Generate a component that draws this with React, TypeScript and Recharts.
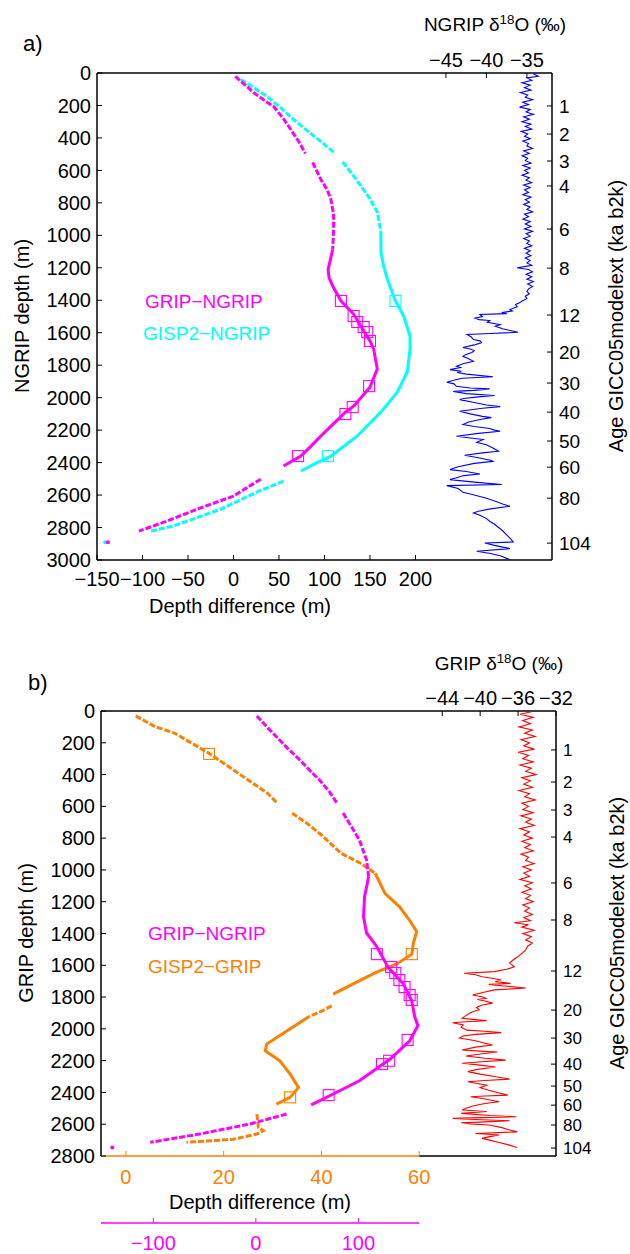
import React from "react";
import { ComposedChart, Scatter, XAxis, YAxis, ReferenceLine } from "recharts";

// [x value, depth in m]
type Pair = [number, number];

// ---------- panel a: NGRIP ----------
const depthTicksA = [0, 200, 400, 600, 800, 1000, 1200, 1400, 1600, 1800, 2000, 2200, 2400, 2600, 2800, 3000];
const diffTicksA = [-150, -100, -50, 0, 50, 100, 150, 200];
const d18oTicksA = [-45, -40, -35];
const ageDepthsA = [203, 376, 542, 696, 961, 1202, 1491, 1719, 1910, 2089, 2267, 2428, 2619, 2896];
const ageLabelsA = ["1", "2", "3", "4", "6", "8", "12", "20", "30", "40", "50", "60", "80", "104"];

const gripNgripA_top: Pair[] = [[2, 21], [12, 70], [22, 120], [33, 165], [44, 206], [54, 275], [63, 348], [72, 425], [79, 496]];
const gripNgripA_upper: Pair[] = [[87, 551], [96, 656], [103, 720], [107, 779], [110, 870], [110, 964], [109, 1087]];
const gripNgripA_mid: Pair[] = [[109, 1087], [104, 1211], [105, 1260], [109, 1312], [118, 1404], [132, 1485], [140, 1560], [150, 1650], [154, 1700], [158, 1824], [150, 1935], [132, 2052], [123, 2089], [110, 2160], [96, 2236], [85, 2300], [74, 2360], [55, 2421]];
const gripNgripA_low: Pair[] = [[30, 2502], [0, 2606], [-40, 2687], [-73, 2760], [-104, 2822]];
const gripNgripA_odd: Pair[] = [[-138, 2890]];
const gripNgripA_marks: Pair[] = [[118, 1404], [132, 1497], [136, 1534], [143, 1565], [147, 1596], [150, 1651], [149, 1929], [131, 2058], [123, 2101], [71, 2360]];

const gisp2NgripA_top: Pair[] = [[8, 40], [22, 90], [37, 145], [52, 215], [66, 287], [81, 355], [96, 422], [110, 487]];
const gisp2NgripA_upper: Pair[] = [[120, 548], [130, 620], [140, 696], [150, 775], [158, 857], [162, 980]];
const gisp2NgripA_mid: Pair[] = [[162, 980], [162, 1103], [165, 1190], [169, 1269], [178, 1404], [187, 1497], [194, 1620], [194, 1700], [191, 1842], [180, 1966], [162, 2089], [136, 2236], [107, 2360], [92, 2400], [74, 2452]];
const gisp2NgripA_low: Pair[] = [[55, 2514], [26, 2581], [-14, 2687], [-66, 2791], [-91, 2822]];
const gisp2NgripA_odd: Pair[] = [[-141, 2890]];
const gisp2NgripA_marks: Pair[] = [[178, 1404], [104, 2360]];

// NGRIP d18O [permil, depth]
const ngripD18O: Pair[] = [
  [-34.2, 5], [-33.6, 20], [-35.0, 30], [-34.4, 45], [-35.6, 60], [-34.6, 75], [-35.3, 90], [-34.5, 105], [-35.8, 120], [-34.9, 135],
  [-35.2, 150], [-34.3, 165], [-35.5, 180], [-34.8, 195], [-35.9, 210], [-34.6, 225], [-35.1, 240], [-34.2, 255], [-35.4, 270], [-34.7, 285],
  [-35.6, 300], [-34.5, 315], [-35.2, 330], [-34.4, 345], [-35.7, 360], [-34.9, 375], [-35.3, 390], [-34.6, 405], [-35.5, 420], [-34.8, 435],
  [-35.0, 450], [-34.3, 465], [-35.4, 480], [-34.7, 495], [-35.6, 510], [-34.9, 525], [-35.2, 540], [-34.5, 555], [-35.5, 570], [-34.6, 585],
  [-35.3, 600], [-34.8, 615], [-35.6, 630], [-34.7, 645], [-35.1, 660], [-34.4, 675], [-35.4, 690], [-34.6, 705], [-35.3, 720], [-34.8, 735],
  [-35.5, 750], [-34.5, 765], [-35.2, 780], [-34.7, 795], [-35.4, 810], [-34.6, 825], [-35.0, 840], [-34.3, 855], [-35.3, 870], [-34.8, 885],
  [-35.5, 900], [-34.6, 915], [-35.2, 930], [-34.5, 945], [-35.3, 960], [-34.3, 975], [-35.1, 990], [-34.6, 1005], [-35.4, 1020], [-34.7, 1035],
  [-35.0, 1050], [-34.4, 1065], [-35.3, 1080], [-34.6, 1095], [-35.1, 1110], [-34.5, 1125], [-35.2, 1140], [-34.6, 1155], [-35.0, 1170], [-34.4, 1185],
  [-36.2, 1200], [-34.8, 1210], [-34.3, 1225], [-35.1, 1240], [-34.4, 1255], [-35.0, 1270], [-34.2, 1285], [-34.9, 1300], [-34.3, 1315], [-34.8, 1330],
  [-35.0, 1345], [-34.7, 1360], [-35.2, 1375], [-35.0, 1390], [-35.6, 1405], [-35.9, 1416], [-36.4, 1426], [-36.2, 1440], [-37.1, 1457], [-36.8, 1466],
  [-38.1, 1476], [-37.5, 1482], [-40.8, 1488], [-40.5, 1500], [-41.4, 1510], [-40.9, 1519], [-39.6, 1525], [-39.9, 1535], [-38.3, 1550], [-38.9, 1560],
  [-38.0, 1575], [-37.2, 1585], [-36.1, 1597], [-39.5, 1605], [-42.4, 1611], [-41.9, 1625], [-41.6, 1642], [-40.8, 1650], [-40.6, 1661], [-41.5, 1675],
  [-42.9, 1691], [-42.0, 1700], [-41.5, 1710], [-41.8, 1722], [-42.6, 1735], [-42.9, 1745], [-42.2, 1760], [-41.6, 1776], [-42.8, 1790], [-43.7, 1806],
  [-43.2, 1815], [-44.5, 1827], [-43.1, 1837], [-43.6, 1845], [-42.5, 1855], [-39.2, 1871], [-43.0, 1880], [-43.8, 1890], [-44.9, 1905], [-44.0, 1915],
  [-43.7, 1930], [-42.0, 1940], [-39.6, 1946], [-41.5, 1955], [-44.1, 1961], [-42.5, 1975], [-39.0, 1987], [-41.0, 1995], [-42.8, 2005], [-43.3, 2012],
  [-41.5, 2030], [-40.0, 2045], [-38.3, 2055], [-40.5, 2065], [-43.3, 2084], [-42.0, 2100], [-40.5, 2115], [-39.4, 2123], [-40.8, 2135], [-42.2, 2150],
  [-42.9, 2166], [-41.5, 2178], [-39.6, 2190], [-39.0, 2200], [-38.3, 2207], [-41.0, 2220], [-43.7, 2238], [-42.0, 2248], [-40.4, 2258], [-41.2, 2275],
  [-40.0, 2290], [-39.2, 2310], [-38.5, 2330], [-40.5, 2340], [-42.7, 2355], [-41.0, 2370], [-39.5, 2385], [-39.2, 2392], [-41.5, 2405], [-43.5, 2425],
  [-44.5, 2443], [-42.5, 2455], [-40.8, 2470], [-42.8, 2480], [-43.8, 2495], [-44.5, 2505], [-41.5, 2520], [-38.1, 2535], [-44.9, 2542], [-43.5, 2560],
  [-42.9, 2583], [-41.5, 2600], [-40.0, 2620], [-38.8, 2640], [-38.0, 2655], [-37.1, 2669], [-39.5, 2685], [-41.0, 2700], [-41.6, 2710], [-40.8, 2725],
  [-40.0, 2745], [-39.6, 2761], [-39.0, 2780], [-38.5, 2800], [-38.0, 2820], [-37.5, 2845], [-37.0, 2870], [-36.7, 2889], [-40.2, 2895], [-39.0, 2910],
  [-37.1, 2930], [-41.2, 2946], [-39.5, 2960], [-38.2, 2975], [-37.5, 2990], [-37.1, 2998],
];

// ---------- panel b: GRIP ----------
const depthTicksB = [0, 200, 400, 600, 800, 1000, 1200, 1400, 1600, 1800, 2000, 2200, 2400, 2600, 2800];
const orangeTicksB = [0, 20, 40, 60];
const magentaTicksB = [-100, 0, 100];
const d18oTicksB = [-44, -40, -36, -32];
const ageDepthsB = [245, 447, 623, 793, 1082, 1315, 1636, 1882, 2058, 2222, 2360, 2480, 2605, 2750];
const ageLabelsB = ["1", "2", "3", "4", "6", "8", "12", "20", "30", "40", "50", "60", "80", "104"];

const gripNgripB_top: Pair[] = [[1, 31], [10, 95], [20, 162], [31, 235], [43, 308], [52, 370], [62, 434], [72, 510], [79, 579]];
const gripNgripB_upper: Pair[] = [[85, 642], [93, 725], [101, 812], [108, 938], [110, 1043]];
const gripNgripB_mid: Pair[] = [[110, 1043], [106, 1169], [105, 1294], [108, 1397], [118, 1483], [129, 1613], [144, 1718], [152, 1823], [155, 1926], [158, 1980], [150, 2075], [131, 2190], [101, 2327], [72, 2421], [54, 2478]];
const gripNgripB_low: Pair[] = [[30, 2536], [-6, 2599], [-55, 2662], [-103, 2714]];
const gripNgripB_odd: Pair[] = [[-140, 2746]];
const gripNgripB_marks: Pair[] = [[118, 1530], [132, 1611], [136, 1649], [140, 1693], [145, 1737], [150, 1787], [152, 1818], [148, 2070], [130, 2201], [123, 2222], [71, 2417]];

const gisp2GripB_top: Pair[] = [[2, 31], [6, 99], [10, 140], [17, 266], [21, 350], [26, 455], [29, 518], [31, 581]];
const gisp2GripB_upper: Pair[] = [[34, 643], [37, 706], [40, 780], [44, 895], [48, 958], [51, 1021]];
const gisp2GripB_mid: Pair[] = [[51, 1021], [53, 1147], [56, 1232], [58, 1315], [59.5, 1389], [58.8, 1462], [58.5, 1530], [55.4, 1592], [51.3, 1643], [47.2, 1706], [42.4, 1781]];
const gisp2GripB_gap: Pair[] = [[42.1, 1855], [39.7, 1894], [37.5, 1922]];
const gisp2GripB_loop: Pair[] = [[37.5, 1922], [33, 2012], [28.8, 2096], [28.5, 2138], [31.5, 2201], [33.6, 2285], [35.3, 2368], [33.6, 2431], [30.8, 2473]];
const gisp2GripB_low: Pair[] = [[26.8, 2536], [27.1, 2620], [28.1, 2641], [26.8, 2662], [22, 2694], [18.6, 2702], [12.4, 2714]];
const gisp2GripB_marks: Pair[] = [[17, 270], [58.5, 1530], [33.6, 2431]];

// GRIP d18O [permil, depth]
const gripD18O: Pair[] = [
  [-34.6, 5], [-35.8, 20], [-34.4, 40], [-35.5, 60], [-34.7, 80], [-35.9, 100], [-34.5, 120], [-35.3, 140], [-34.2, 160], [-35.7, 180],
  [-34.8, 200], [-35.4, 220], [-34.3, 240], [-36.0, 260], [-34.9, 280], [-35.5, 300], [-34.4, 320], [-35.8, 340], [-34.6, 360], [-35.2, 380],
  [-34.1, 400], [-35.6, 420], [-34.7, 440], [-35.4, 460], [-34.5, 480], [-35.9, 500], [-34.8, 520], [-35.3, 540], [-34.2, 560], [-35.6, 580],
  [-34.9, 600], [-35.5, 620], [-34.4, 640], [-35.7, 660], [-34.6, 680], [-35.2, 700], [-34.3, 720], [-35.8, 740], [-34.8, 760], [-35.4, 780],
  [-34.5, 800], [-35.6, 820], [-34.7, 840], [-35.3, 860], [-34.4, 880], [-35.7, 900], [-34.9, 920], [-35.2, 940], [-34.3, 960], [-35.5, 980],
  [-34.6, 1000], [-35.4, 1020], [-34.8, 1040], [-35.8, 1060], [-34.5, 1080], [-35.3, 1100], [-34.6, 1120], [-35.6, 1140], [-34.7, 1160], [-35.2, 1180],
  [-34.4, 1200], [-35.5, 1220], [-34.8, 1240], [-35.3, 1260], [-34.5, 1280], [-35.4, 1300], [-34.7, 1320], [-36.4, 1332], [-34.9, 1345], [-35.6, 1360],
  [-34.3, 1380], [-35.5, 1400], [-34.6, 1420], [-35.2, 1440], [-34.5, 1460], [-35.0, 1480], [-35.2, 1504], [-35.5, 1520], [-36.0, 1545], [-36.5, 1565],
  [-36.9, 1586], [-36.6, 1600], [-36.4, 1609], [-37.2, 1625], [-38.5, 1640], [-41.7, 1650], [-40.5, 1660], [-39.8, 1672], [-38.6, 1683], [-37.8, 1693],
  [-38.4, 1703], [-36.8, 1714], [-39.1, 1720], [-37.5, 1730], [-35.2, 1743], [-38.5, 1755], [-39.6, 1770], [-40.8, 1787], [-39.8, 1798], [-39.4, 1808],
  [-40.3, 1815], [-39.5, 1825], [-38.7, 1838], [-39.8, 1850], [-40.4, 1865], [-40.1, 1880], [-40.8, 1892], [-41.2, 1905], [-41.6, 1920], [-41.9, 1934],
  [-40.5, 1942], [-39.3, 1949], [-41.5, 1955], [-42.9, 1962], [-41.8, 1975], [-42.0, 1990], [-41.4, 2008], [-39.5, 2015], [-37.8, 2024], [-40.5, 2035],
  [-41.8, 2045], [-42.2, 2058], [-40.5, 2075], [-39.5, 2090], [-38.7, 2102], [-40.5, 2115], [-41.9, 2133], [-40.0, 2140], [-38.2, 2146], [-40.0, 2158],
  [-41.5, 2171], [-39.5, 2185], [-37.3, 2197], [-39.8, 2207], [-41.9, 2216], [-40.0, 2228], [-38.4, 2240], [-40.3, 2255], [-41.3, 2269], [-40.0, 2285],
  [-38.5, 2300], [-36.9, 2316], [-39.5, 2325], [-41.3, 2333], [-40.2, 2345], [-39.3, 2354], [-40.0, 2370], [-39.2, 2385], [-38.2, 2400], [-37.1, 2417],
  [-39.5, 2422], [-41.0, 2427], [-39.6, 2440], [-38.0, 2459], [-39.5, 2470], [-40.8, 2485], [-41.5, 2500], [-41.9, 2511], [-39.3, 2520], [-42.0, 2532],
  [-39.0, 2545], [-36.2, 2553], [-42.9, 2563], [-40.5, 2570], [-36.9, 2578], [-39.5, 2585], [-42.0, 2591], [-41.0, 2598], [-39.1, 2605], [-37.8, 2620],
  [-37.0, 2635], [-36.1, 2648], [-40.5, 2658], [-39.2, 2663], [-38.0, 2668], [-39.0, 2678], [-39.8, 2689], [-39.0, 2700], [-38.0, 2715], [-37.0, 2730],
  [-36.1, 2746],
];

const MAGENTA = "#ff00ff";
const CYAN = "#00ffff";
const ORANGE = "#ff8000";
const FONT = '"Liberation Sans", Arial, Helvetica, sans-serif';

const pts = (a: Pair[]) => a.map(([x, y]) => ({ x, y }));
const minus = (v: number) => String(v).replace("-", "\u2212");
const none = () => <g />;
const dot = (color: string) => (p: any) => <circle cx={p.cx} cy={p.cy} r={2} fill={color} />;
const square = (color: string) => (p: any) => (
  <rect x={p.cx - 5.5} y={p.cy - 5.5} width={11} height={11} fill="none" stroke={color} strokeWidth={1.1} />
);

const tickStyle = (fill = "#000", fontSize = 20) => ({ fontSize, fill, fontFamily: FONT });

// curve drawn as a polyline through the read-off points
const curve = (key: string, data: Pair[], color: string, xId: string, dashed: boolean) => (
  <Scatter
    key={key}
    data={pts(data)}
    xAxisId={xId}
    yAxisId="l"
    shape={none}
    line={{ stroke: color, strokeWidth: 3, strokeDasharray: dashed ? "6 2" : undefined }}
    isAnimationActive={false}
  />
);

const marks = (key: string, data: Pair[], color: string, xId: string) => (
  <Scatter key={key} data={pts(data)} xAxisId={xId} yAxisId="l" shape={square(color)} isAnimationActive={false} />
);

const Txt = ({ x, y, size = 20, color = "#000", rot = false, center = true, children }: any) => (
  <div
    style={{
      position: "absolute",
      left: x,
      top: y,
      transform: `translate(${center ? "-50%" : "0"}, -50%)${rot ? " rotate(-90deg)" : ""}`,
      fontSize: size,
      color,
      fontFamily: FONT,
      whiteSpace: "nowrap",
      lineHeight: 1,
    }}
  >
    {children}
  </div>
);

const Sup = ({ children }: any) => (
  <span style={{ fontSize: "0.7em", position: "relative", top: "-0.5em" }}>{children}</span>
);

const PanelA = () => (
  <ComposedChart width={630} height={620} margin={{ top: 43, right: 38, bottom: 35, left: 37 }}>
    <XAxis xAxisId="d" dataKey="x" type="number" orientation="bottom" height={25} domain={[-150, 350]} allowDataOverflow
      ticks={diffTicksA} interval={0} tickFormatter={minus} tickSize={-5} tickMargin={17}
      stroke="#000" axisLine={{ stroke: "#000", strokeWidth: 1.5 }} tick={tickStyle()} />
    <XAxis xAxisId="o" dataKey="x" type="number" orientation="top" height={30} domain={[-88.1, -31.9]} allowDataOverflow
      ticks={d18oTicksA} interval={0} tickFormatter={minus} tickSize={-5} tickMargin={11}
      stroke="#000" axisLine={{ stroke: "#000", strokeWidth: 1.5 }} tick={tickStyle()} />
    <YAxis yAxisId="l" dataKey="y" type="number" reversed width={60} domain={[0, 3000]} allowDataOverflow
      ticks={depthTicksA} interval={0} tickSize={-5} tickMargin={11}
      stroke="#000" axisLine={{ stroke: "#000", strokeWidth: 1.5 }} tick={tickStyle()} />
    <YAxis yAxisId="r" orientation="right" type="number" reversed width={40} domain={[0, 3000]} allowDataOverflow
      ticks={ageDepthsA} interval={0} tickFormatter={(_v: number, i: number) => ageLabelsA[i]} tickSize={-5} tickMargin={12}
      stroke="#000" axisLine={{ stroke: "#000", strokeWidth: 1.5 }} tick={tickStyle("#000", 19)} />

    <Scatter data={pts(ngripD18O)} xAxisId="o" yAxisId="l" shape={none}
      line={{ stroke: "#0000ff", strokeWidth: 1.1 }} isAnimationActive={false} />

    {curve("c1", gisp2NgripA_top, CYAN, "d", true)}
    {curve("c2", gisp2NgripA_upper, CYAN, "d", true)}
    {curve("c3", gisp2NgripA_mid, CYAN, "d", false)}
    {curve("c4", gisp2NgripA_low, CYAN, "d", true)}
    <Scatter data={pts(gisp2NgripA_odd)} xAxisId="d" yAxisId="l" shape={dot(CYAN)} isAnimationActive={false} />
    {curve("m1", gripNgripA_top, MAGENTA, "d", true)}
    {curve("m2", gripNgripA_upper, MAGENTA, "d", true)}
    {curve("m3", gripNgripA_mid, MAGENTA, "d", false)}
    {curve("m4", gripNgripA_low, MAGENTA, "d", true)}
    <Scatter data={pts(gripNgripA_odd)} xAxisId="d" yAxisId="l" shape={dot(MAGENTA)} isAnimationActive={false} />
    {marks("s1", gisp2NgripA_marks, CYAN, "d")}
    {marks("s2", gripNgripA_marks, MAGENTA, "d")}
  </ComposedChart>
);

const PanelB = () => (
  <ComposedChart width={630} height={624} margin={{ top: 51, right: 34, bottom: 1, left: 41 }}>
    <XAxis xAxisId="g" dataKey="x" type="number" orientation="bottom" height={67} domain={[-5.1, 88]} allowDataOverflow
      ticks={orangeTicksB} interval={0} tickFormatter={minus} tickSize={-5} tickMargin={19}
      stroke={ORANGE} axisLine={{ stroke: ORANGE, strokeWidth: 1.5, strokeDasharray: "318 1000" }} tick={tickStyle(ORANGE)} />
    <XAxis xAxisId="m" dataKey="x" type="number" orientation="bottom" height={30} domain={[-151, 292.7]} allowDataOverflow
      ticks={magentaTicksB} interval={0} tickFormatter={minus} tickSize={-5} tickMargin={18}
      stroke={MAGENTA} axisLine={{ stroke: MAGENTA, strokeWidth: 1.5, strokeDasharray: "318 1000" }} tick={tickStyle(MAGENTA)} />
    <XAxis xAxisId="o" dataKey="x" type="number" orientation="top" height={30} domain={[-80, -32]} allowDataOverflow
      ticks={d18oTicksB} interval={0} tickFormatter={minus} tickSize={-5} tickMargin={11}
      stroke="#000" axisLine={{ stroke: "#000", strokeWidth: 1.5 }} tick={tickStyle()} />
    <YAxis yAxisId="l" dataKey="y" type="number" reversed width={60} domain={[0, 2800]} allowDataOverflow
      ticks={depthTicksB} interval={0} tickSize={-5} tickMargin={11}
      stroke="#000" axisLine={{ stroke: "#000", strokeWidth: 1.5 }} tick={tickStyle()} />
    <YAxis yAxisId="r" orientation="right" type="number" reversed width={40} domain={[0, 2800]} allowDataOverflow
      ticks={ageDepthsB} interval={0} tickFormatter={(_v: number, i: number) => ageLabelsB[i]} tickSize={-5} tickMargin={12}
      stroke="#000" axisLine={{ stroke: "#000", strokeWidth: 1.5 }} tick={tickStyle("#000", 17)} />

    <ReferenceLine xAxisId="g" yAxisId="l" segment={[{ x: 60, y: 2800 }, { x: 88, y: 2800 }]} stroke="#000" strokeWidth={1.5} />

    <Scatter data={pts(gripD18O)} xAxisId="o" yAxisId="l" shape={none}
      line={{ stroke: "#ff0000", strokeWidth: 1.1 }} isAnimationActive={false} />

    {curve("o1", gisp2GripB_top, ORANGE, "g", true)}
    {curve("o2", gisp2GripB_upper, ORANGE, "g", true)}
    {curve("o3", gisp2GripB_mid, ORANGE, "g", false)}
    {curve("o4", gisp2GripB_gap, ORANGE, "g", true)}
    {curve("o5", gisp2GripB_loop, ORANGE, "g", false)}
    {curve("o6", gisp2GripB_low, ORANGE, "g", true)}
    {curve("m1", gripNgripB_top, MAGENTA, "m", true)}
    {curve("m2", gripNgripB_upper, MAGENTA, "m", true)}
    {curve("m3", gripNgripB_mid, MAGENTA, "m", false)}
    {curve("m4", gripNgripB_low, MAGENTA, "m", true)}
    <Scatter data={pts(gripNgripB_odd)} xAxisId="m" yAxisId="l" shape={dot(MAGENTA)} isAnimationActive={false} />
    {marks("s1", gisp2GripB_marks, ORANGE, "g")}
    {marks("s2", gripNgripB_marks, MAGENTA, "m")}
  </ComposedChart>
);

export default function App() {
  return (
    <div style={{ position: "absolute", left: 0, top: 0, width: 630, height: 1254, background: "#fff", fontFamily: FONT }}>
      <div style={{ position: "absolute", left: 0, top: 0 }}>
        <PanelA />
      </div>
      <div style={{ position: "absolute", left: 0, top: 630 }}>
        <PanelB />
      </div>

      <Txt x={23} y={44} size={22} center={false}>a)</Txt>
      <Txt x={495} y={24} size={19}>NGRIP δ<Sup>18</Sup>O (‰)</Txt>
      <Txt x={22} y={316} rot>NGRIP depth (m)</Txt>
      <Txt x={616} y={316} rot>Age GICC05modelext (ka b2k)</Txt>
      <Txt x={240} y={606}>Depth difference (m)</Txt>
      <Txt x={145} y={301} size={19} color={MAGENTA} center={false}>GRIP−NGRIP</Txt>
      <Txt x={143} y={333} size={19} color={CYAN} center={false}>GISP2−NGRIP</Txt>

      <Txt x={28} y={683} size={22} center={false}>b)</Txt>
      <Txt x={499} y={663} size={19}>GRIP δ<Sup>18</Sup>O (‰)</Txt>
      <Txt x={26} y={933} rot>GRIP depth (m)</Txt>
      <Txt x={617} y={933} rot>Age GICC05modelext (ka b2k)</Txt>
      <Txt x={260} y={1202}>Depth difference (m)</Txt>
      <Txt x={148} y={933} size={19} color={MAGENTA} center={false}>GRIP−NGRIP</Txt>
      <Txt x={148} y={966} size={19} color={ORANGE} center={false}>GISP2−GRIP</Txt>
    </div>
  );
}
